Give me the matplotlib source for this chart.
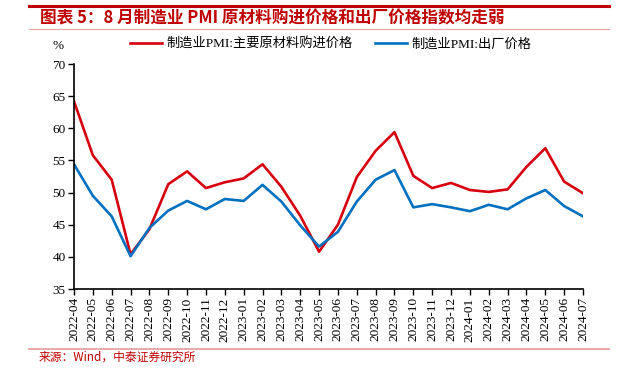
import numpy as np
import matplotlib.pyplot as plt
from matplotlib.lines import Line2D

# monthly labels and the two PMI price series
months = ['2022-04', '2022-05', '2022-06', '2022-07', '2022-08', '2022-09', '2022-10',
          '2022-11', '2022-12', '2023-01', '2023-02', '2023-03', '2023-04', '2023-05',
          '2023-06', '2023-07', '2023-08', '2023-09', '2023-10', '2023-11', '2023-12',
          '2024-01', '2024-02', '2024-03', '2024-04', '2024-05', '2024-06', '2024-07']
input_price = [64.2, 55.8, 52.0, 40.4, 44.3, 51.3, 53.3, 50.7, 51.6, 52.2, 54.4, 50.9, 46.4, 40.8,
               45.0, 52.4, 56.5, 59.4, 52.6, 50.7, 51.5, 50.4, 50.1, 50.5, 54.0, 56.9, 51.7, 49.9]
output_price = [54.4, 49.5, 46.3, 40.1, 44.5, 47.2, 48.7, 47.4, 49.0, 48.7, 51.2, 48.6, 44.9, 41.6,
                43.9, 48.6, 52.0, 53.5, 47.7, 48.2, 47.7, 47.1, 48.1, 47.4, 49.1, 50.4, 47.9, 46.3]
names = ['制造业PMI:主要原材料购进价格', '制造业PMI:出厂价格']

W, H = 623, 371
fig = plt.figure(figsize=(W / 100, H / 100), dpi=100)
serif = ['Liberation Serif', 'Noto Sans CJK SC']
cjk = ['Noto Sans CJK SC', 'DejaVu Sans']

ax = fig.add_axes([74 / W, 1 - 289 / H, (583 - 74) / W, (289 - 64) / H])
x = np.arange(len(months))
ax.plot(x, input_price, color='#D7000F', lw=1.9, label=names[0])
ax.plot(x, output_price, color='#0070C0', lw=1.9, label=names[1])

ax.set_xlim(0, len(months) - 1)
ax.set_ylim(35, 70)
ax.set_yticks(np.arange(35, 71, 5))
ax.set_xticks(x)
ax.set_xticklabels(months, rotation=90)
for lab in ax.get_xticklabels() + ax.get_yticklabels():
    lab.set_family(serif)
    lab.set_fontsize(9.5)
ax.tick_params(direction='out', length=4, width=1, pad=2, colors='black')
for s in ['top', 'right']:
    ax.spines[s].set_visible(False)
for s in ['left', 'bottom']:
    ax.spines[s].set_linewidth(1.2)

fig.legend(handles=ax.get_lines(), labels=names, loc='center', bbox_to_anchor=(331 / W, 1 - 44 / H),
           ncol=2, frameon=False, handlelength=2.4, handletextpad=0.35, columnspacing=1.7,
           prop={'family': serif, 'size': 9.5})
fig.text(58 / W, 1 - 46 / H, '%', family=serif, fontsize=9.5, ha='center', va='center')

# header and footer decorations
fig.add_artist(Line2D([29 / W, 609 / W], [1 - 6 / H] * 2, color='#C00000', lw=2.2))
fig.add_artist(Line2D([29 / W, 609 / W], [1 - 29 / H] * 2, color='#E8A8A8', lw=0.9))
fig.add_artist(Line2D([29 / W, 609 / W], [1 - 349 / H] * 2, color='#E8A8A8', lw=1.4))
fig.text(40 / W, 1 - 18 / H, '图表 5：8 月制造业 PMI 原材料购进价格和出厂价格指数均走弱',
         family=cjk, fontsize=12, fontweight='bold', style='italic', color='#C00000',
         ha='left', va='center')
fig.text(39 / W, 1 - 357 / H, '来源：Wind，中泰证券研究所', family=cjk, fontsize=8.5,
         color='#C00000', ha='left', va='center')

fig.savefig('out.png', dpi=100)
